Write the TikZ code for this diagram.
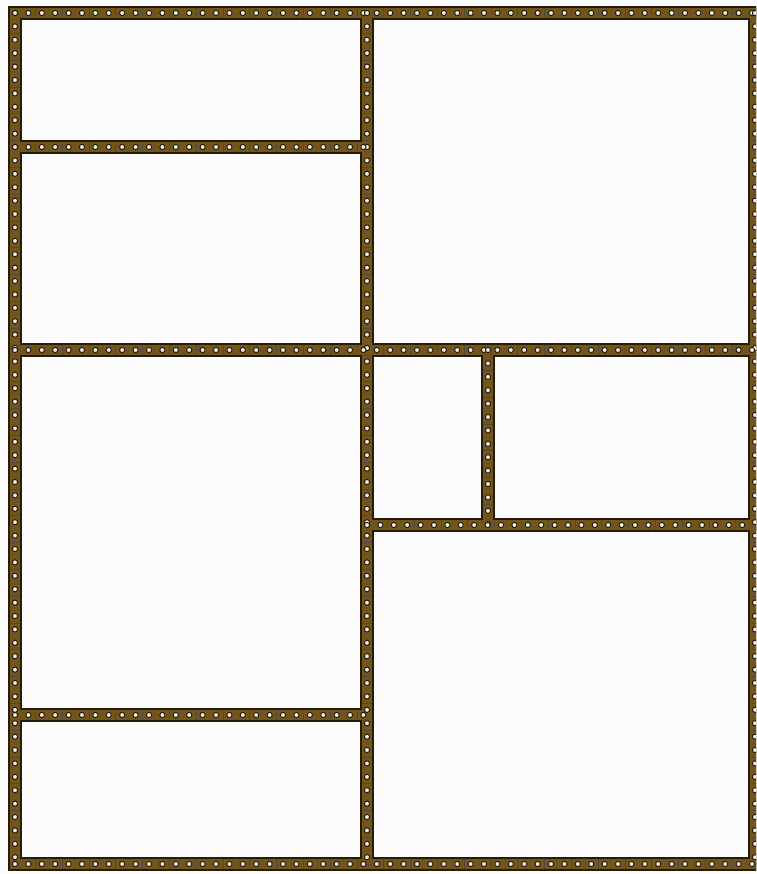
\documentclass[tikz,border=0pt]{standalone}
\usepackage{xcolor}
\usepackage{tikz}
\usetikzlibrary{decorations.markings}
\definecolor{stripdark}{HTML}{261C0C}
\definecolor{stripgold}{HTML}{73541A}
\definecolor{paper}{HTML}{FCFCFC}

\begin{document}
\begin{tikzpicture}[x=0.25mm, y=-0.25mm,
      stripedge/.style={draw=stripdark, line width=3.4mm, line cap=rect},
      stripcore/.style={draw=stripgold, line width=2.3mm, line cap=rect},
      stripjoint/.style={draw=stripdark!80, line width=2.3mm, dash pattern=on 0.2mm off 6.5mm, dash phase=1.7mm},
      stripholes/.style={decoration={markings,
          mark=between positions 0 and 1 step 3.35mm with {\fill[paper!90!gray, draw=stripdark, line width=0.25mm] (0,0) circle (0.65mm);}},
        decorate}]
    \clip (0,0) rectangle (756,874);
    \fill[paper] (0,0) rectangle (756,874);
    % junctions of the frame
    \coordinate (tl) at (15,13);  \coordinate (tm) at (367,13);  \coordinate (tr) at (755,13);
    \coordinate (bl) at (15,864); \coordinate (bm) at (367,864); \coordinate (br) at (755,864);
    \coordinate (l1) at (15,147); \coordinate (m1) at (367,147);
    \coordinate (l2) at (15,350); \coordinate (m2) at (367,350);
    \coordinate (s2) at (488,350); \coordinate (r2) at (755,350);
    \coordinate (m3) at (367,525); \coordinate (s3) at (488,525); \coordinate (r3) at (755,525);
    \coordinate (l4) at (15,715); \coordinate (m4) at (367,715);
    % strips: outline, core, joints, holes
    \foreach \a/\b in {tl/tr, bl/br, tl/bl, tr/br, tm/bm, l1/m1, l2/r2, s2/s3, m3/r3, l4/m4}
      \draw[stripedge] (\a) -- (\b);
    \foreach \a/\b in {tl/tr, bl/br, tl/bl, tr/br, tm/bm, l1/m1, l2/r2, s2/s3, m3/r3, l4/m4}
      \draw[stripcore] (\a) -- (\b);
    \foreach \a/\b in {tl/tr, bl/br, tl/bl, tr/br, tm/bm, l1/m1, l2/r2, s2/s3, m3/r3, l4/m4}
      \draw[stripjoint] (\a) -- (\b);
    \foreach \a/\b in {tl/tr, bl/br, tl/bl, tr/br, tm/bm, l1/m1, l2/r2, s2/s3, m3/r3, l4/m4}
      \path[stripholes] (\a) -- (\b);
  \end{tikzpicture}
\end{document}
